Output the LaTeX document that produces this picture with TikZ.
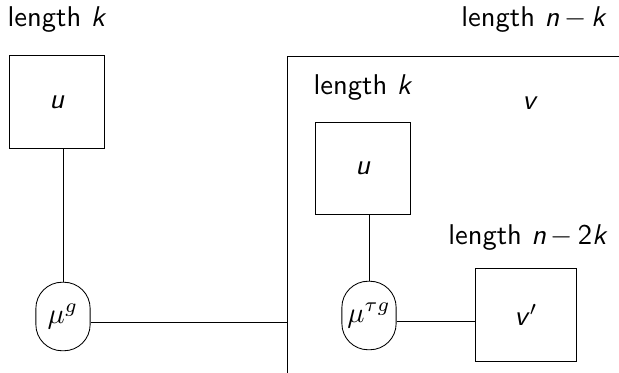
\documentclass[tikz,border=0pt]{standalone}
\usetikzlibrary{positioning}
\newcommand{\sv}[1]{\textsf{\itshape #1}}
\begin{document}
\begin{tikzpicture}[x=0.35pt,y=-0.35pt,line width=0.3pt,
		wordbox/.style={draw, minimum width=33pt, minimum height=32.4pt, inner sep=0pt},
		mubox/.style={draw, rounded corners=9.2pt, minimum width=19pt, minimum height=24pt, inner sep=1pt},
		lbl/.style={font=\sffamily}]
	\useasboundingbox (0,0) rectangle (619,373);
	% left part
	\node[lbl] (lenL) at (57,20) {length \sv{k}};
	\node[wordbox] (uL) at (57,102) {\sv{u}};
	\node[mubox] (muL) at (63,316.5) {$\mu^{g}$};
	\draw (muL) -- (muL |- uL.south);
	% right part
	\coordinate (frame) at (287,56);
	\draw (287,373) |- (619,56);
	\node[lbl] (lenR) at (534,20) {length \sv{n}\,$-$\,\sv{k}};
	\node[lbl] (lenU) at (363,88) {length \sv{k}};
	\node[lbl] (vlab) at (530,103) {\sv{v}};
	\node[wordbox] (uR) at (363,168.5) {\sv{u}};
	\node[mubox] (muR) at (369,315.5) {$\mu^{\tau g}$};
	\draw (muR) -- (muR |- uR.south);
	\node[lbl] (lenV) at (528,238) {length \sv{n}\,$-$\,2\sv{k}};
	\node[wordbox, minimum width=35.5pt] (vp) at (526,315) {\sv{v}$'$};
	% connectors
	\draw ([yshift=-2pt]muL.east) -- ([yshift=-2pt]muL.east -| frame);
	\draw ([yshift=-2pt]muR.east) -- ([yshift=-2pt]muR.east -| vp.west);
\end{tikzpicture}
\end{document}
